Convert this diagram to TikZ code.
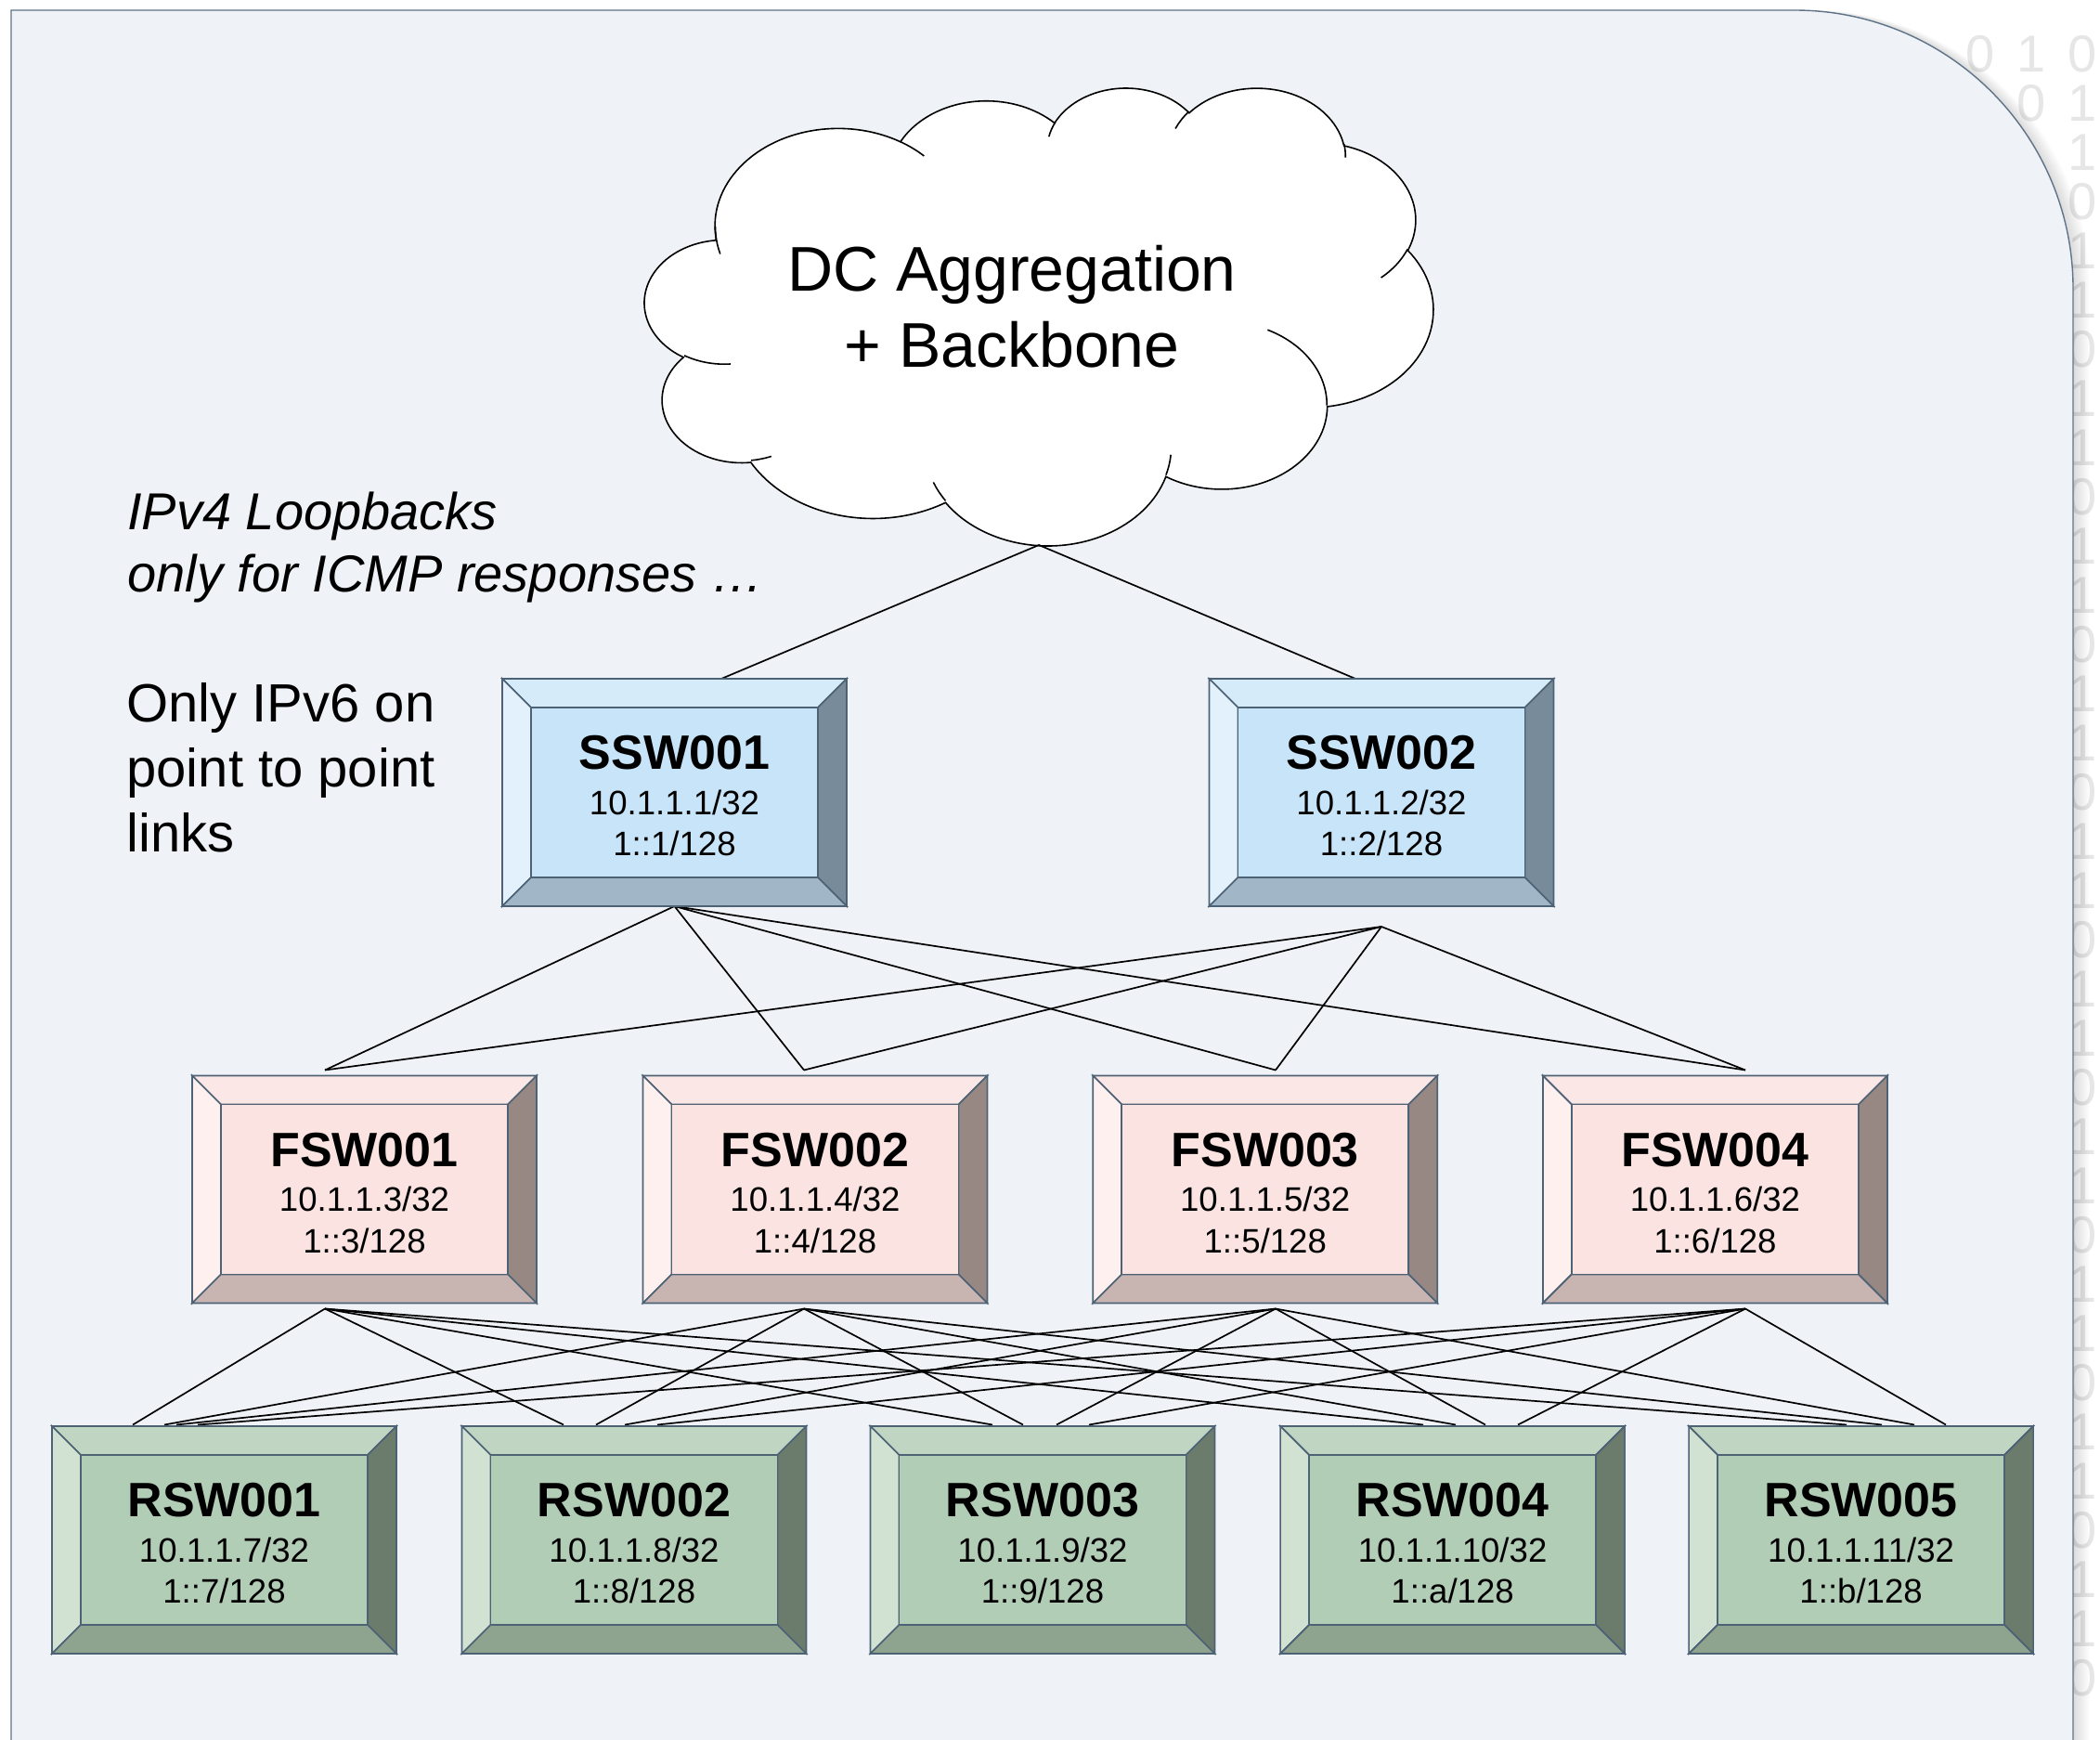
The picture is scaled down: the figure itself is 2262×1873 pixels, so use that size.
\documentclass[tikz,border=0pt]{standalone}
\usepackage{fontspec}
\setmainfont{Liberation Sans}
\usetikzlibrary{calc}
\pgfdeclarelayer{bg}
\pgfdeclarelayer{links}
\pgfsetlayers{bg,links,main}

% page and panel
\definecolor{panelfill}{HTML}{EFF3F7}
\definecolor{paneledge}{HTML}{5F7388}
\definecolor{boxedge}{HTML}{4E6276}
\definecolor{bitgray}{HTML}{E6E6E6}
% spine switches
\definecolor{sswface}{HTML}{C8E4F8}
\definecolor{sswtop}{HTML}{D5EBFA}
\definecolor{sswleft}{HTML}{E2F1FC}
\definecolor{sswright}{HTML}{778B9B}
\definecolor{sswbottom}{HTML}{A1B7C8}
% fabric switches
\definecolor{fswface}{HTML}{FAE3E0}
\definecolor{fswtop}{HTML}{FBE7E5}
\definecolor{fswleft}{HTML}{FDF0EE}
\definecolor{fswright}{HTML}{978884}
\definecolor{fswbottom}{HTML}{C8B4B1}
% rack switches
\definecolor{rswface}{HTML}{B2CDB6}
\definecolor{rswtop}{HTML}{C0D6C3}
\definecolor{rswleft}{HTML}{D1E2D3}
\definecolor{rswright}{HTML}{6B7B6C}
\definecolor{rswbottom}{HTML}{8FA48F}

\tikzset{
  boxnode/.style={rectangle, minimum width=185.5pt, minimum height=122.5pt, inner sep=0pt, outer sep=0pt},
  bevel/.style={draw=boxedge, line width=0.85pt, line join=miter},
  boxtitle/.style={font=\fontsize{26pt}{30pt}\selectfont\bfseries, inner sep=0pt, anchor=base},
  boxaddr/.style={font=\fontsize{18.3pt}{21pt}\selectfont, inner sep=0pt, anchor=base},
  notetext/.style={font=\fontsize{29pt}{35pt}\selectfont, anchor=base west, inner sep=0pt},
  inotetext/.style={font=\fontsize{28pt}{34pt}\selectfont\itshape, anchor=base west, inner sep=0pt},
  cloudtext/.style={font=\fontsize{34pt}{41pt}\selectfont, anchor=base, inner sep=0pt},
  cloudline/.style={draw=black, line width=0.8pt},
  netlink/.style={draw=black, line width=0.85pt},
  bitstyle/.style={text=bitgray, font=\fontsize{28pt}{30pt}\selectfont, inner sep=0pt},
}

% elliptical arc given by visual start angle and sweep (y axis pointing down)
\newcommand\cloudarc[4]{arc[x radius={#1*0.9825pt}, y radius={#2*0.57035pt}, start angle={-pv(#3,#1,#2)}, delta angle={-pd(#3,#4,#1,#2)}]}

% bevelled switch box: name, position, palette, title, IPv4, IPv6
\newcommand\netbox[6]{%
  \node[boxnode] (#1) at (#2) {};
  \path[bevel, fill=#3top] (#1.north west) -- (#1.north east) -- ($(#1.north east)+(-31,31)$) -- ($(#1.north west)+(31,31)$) -- cycle;
  \path[bevel, fill=#3left] (#1.north west) -- ($(#1.north west)+(31,31)$) -- ($(#1.south west)+(31,-31)$) -- (#1.south west) -- cycle;
  \path[bevel, fill=#3right] (#1.north east) -- (#1.south east) -- ($(#1.south east)+(-31,-31)$) -- ($(#1.north east)+(-31,31)$) -- cycle;
  \path[bevel, fill=#3bottom] (#1.south west) -- (#1.south east) -- ($(#1.south east)+(-31,-31)$) -- ($(#1.south west)+(31,-31)$) -- cycle;
  \path[bevel, fill=#3face] ($(#1.north west)+(31,31)$) rectangle ($(#1.south east)+(-31,-31)$);
  \node[boxtitle] (#1-name) at ($(#1.center)+(0,-25)$) {#4};
  \node[boxaddr] (#1-v4) at ($(#1.center)+(0,23.5)$) {#5};
  \node[boxaddr] (#1-v6) at ($(#1.center)+(0,68)$) {#6};
}

\def\panelpath{(12,1900) -- (12,11) -- (1933,11) arc[start angle=90, end angle=0, radius=150pt] -- (2233,1900) -- cycle}

\begin{document}
\begin{tikzpicture}[x=0.5pt, y=-0.5pt,
  declare function={pv(\a,\w,\h)=atan2(\w*sin(\a),\h*cos(\a));
                    pd(\a,\s,\w,\h)=mod(pv(\a+\s,\w,\h)-pv(\a,\w,\h)+720,360);}]
\useasboundingbox (0,0) rectangle (2262,1873);

\begin{pgfonlayer}{bg}
  \fill[white] (0,0) rectangle (2262,1873);
  % binary digits peeking out beside the panel
  \foreach \r in {1,...,34} {
    \pgfmathtruncatemacro\bit{mod(\r*7+\r*\r,3)==0}
    \node[bitstyle] (bit-\r-0) at (2243,{5+53*\r}) {\bit};
  }
  \foreach \r/\k/\bit in {1/1/1, 2/1/0, 1/2/0} {
    \node[bitstyle] (bit-\r-\k) at ({2243-55*\k},{5+53*\r}) {\bit};
  }
  % soft shadow on the right of the panel
  \foreach \i in {1,...,18} {
    \fill[black, opacity=0.006, xshift=\i*0.5pt] \panelpath;
  }
  \filldraw[fill=panelfill, draw=paneledge, line width=0.7pt] \panelpath;

  % aggregation cloud
  \begin{scope}[shift={(694.7,93.4)}, x=0.9825pt, y=-0.57035pt]
    \filldraw[cloudline, fill=white] (39.00,143.70)
      \cloudarc{67.53}{91.90}{-190.48748}{123.78053}
      \cloudarc{53.33}{72.67}{-144.10238}{89.94523}
      \cloudarc{43.65}{59.45}{-145.80792}{99.72302}
      \cloudarc{48.57}{65.95}{-130.98607}{117.24173}
      \cloudarc{53.33}{72.73}{-78.70888}{109.02692}
      \cloudarc{67.75}{92.20}{-46.26725}{130.269}
      \cloudarc{57.85}{78.67}{0.62502}{114.03333}
      \cloudarc{67.52}{92.15}{22.4516}{115.17255}
      \cloudarc{77.20}{105.43}{66.24263}{75.71102}
      \cloudarc{43.60}{59.18}{-274.94208}{146.73557}
      \cloudarc{43.45}{59.45}{-246.8285}{152.51885}
      -- cycle;
    \draw[cloudline]
      (46.93,261.77) \cloudarc{43.45}{59.45}{86.742}{26.4295}
      (69.28,348.99) \cloudarc{43.60}{59.18}{73.61047}{11.44747}
      (164.78,390.90) \cloudarc{67.52}{92.15}{137.62415}{14.0811}
      (288.27,347.51) \cloudarc{67.52}{92.15}{6.45327}{15.99835}
      (341.29,229.54) \cloudarc{57.85}{78.67}{-70.29235}{70.91737}
      (417.98,153.54) \cloudarc{53.33}{72.73}{30.31803}{27.7515}
      (383.24,54.26) \cloudarc{48.57}{65.95}{-13.74433}{14.8589}
      (290.78,39.52) \cloudarc{48.57}{65.95}{-149.18145}{18.19537}
      (221.41,47.20) \cloudarc{43.65}{59.45}{-163.49427}{17.68635}
      (140.00,51.92) \cloudarc{67.53}{91.90}{-66.70695}{12.31935}
      (41.27,157.89) \cloudarc{67.53}{91.90}{158.33333}{21.91667};
  \end{scope}
\end{pgfonlayer}

\node[cloudtext] (agg-a) at (1090,313) {DC Aggregation};
\node[cloudtext] (agg-b) at (1090,395) {+ Backbone};
\coordinate (cloud-s) at (1119,587);

\node[inotetext] (v4-a) at (137,570) {IPv4 Loopbacks};
\node[inotetext] (v4-b) at (137,637) {only for ICMP responses …};
\node[notetext] (v6-a) at (136,777) {Only IPv6 on};
\node[notetext] (v6-b) at (136,847) {point to point};
\node[notetext] (v6-c) at (136,917) {links};

% spine layer
\netbox{ssw1}{726.5,853.5}{ssw}{SSW001}{10.1.1.1/32}{1::1/128}
\netbox{ssw2}{1488,853.5}{ssw}{SSW002}{10.1.1.2/32}{1::2/128}
% fabric layer
\netbox{fsw1}{392.5,1281}{fsw}{FSW001}{10.1.1.3/32}{1::3/128}
\netbox{fsw2}{878,1281}{fsw}{FSW002}{10.1.1.4/32}{1::4/128}
\netbox{fsw3}{1362.7,1281}{fsw}{FSW003}{10.1.1.5/32}{1::5/128}
\netbox{fsw4}{1847.4,1281}{fsw}{FSW004}{10.1.1.6/32}{1::6/128}
% rack layer
\netbox{rsw1}{241.5,1658.5}{rsw}{RSW001}{10.1.1.7/32}{1::7/128}
\netbox{rsw2}{683,1658.5}{rsw}{RSW002}{10.1.1.8/32}{1::8/128}
\netbox{rsw3}{1123,1658.5}{rsw}{RSW003}{10.1.1.9/32}{1::9/128}
\netbox{rsw4}{1564.6,1658.5}{rsw}{RSW004}{10.1.1.10/32}{1::a/128}
\netbox{rsw5}{2004.6,1658.5}{rsw}{RSW005}{10.1.1.11/32}{1::b/128}

% attachment points
\coordinate (ssw1-n) at ($(ssw1.north)+(50.5,0)$);
\coordinate (ssw2-n) at ($(ssw2.north)+(-28,0)$);
\coordinate (ssw1-s) at (ssw1.south);
\coordinate (ssw2-s) at ($(ssw2.south)+(0,22)$);
\foreach \f/\dx in {1/-42.5,2/-12,3/11.3,4/32.6} {
  \coordinate (fsw\f-n) at ($(fsw\f.north)+(\dx,-6)$);
  \coordinate (fsw\f-s) at ($(fsw\f.south)+(\dx,6)$);
}
\foreach \r/\a/\b/\c/\d in {1/-98.5/-64.5/-51.5/-28.5, 2/-76/-41/-10/25,
    3/-54/-21/15/50, 4/-31.6/3.4/35.4/70.4, 5/-15.6/22.4/57.4/91.4} {
  \coordinate (rsw\r-1) at ($(rsw\r.north)+(\a,-1.5)$);
  \coordinate (rsw\r-2) at ($(rsw\r.north)+(\b,-1.5)$);
  \coordinate (rsw\r-3) at ($(rsw\r.north)+(\c,-1.5)$);
  \coordinate (rsw\r-4) at ($(rsw\r.north)+(\d,-1.5)$);
}

\begin{pgfonlayer}{links}
  \draw[netlink] (ssw1-n) -- (cloud-s) -- (ssw2-n);
  \foreach \f in {1,...,4} {
    \draw[netlink] (ssw1-s) -- (fsw\f-n);
    \draw[netlink] (ssw2-s) -- (fsw\f-n);
  }
  \foreach \f in {1,...,4} {
    \foreach \r in {1,...,5} {
      \draw[netlink] (fsw\f-s) -- (rsw\r-\f);
    }
  }
\end{pgfonlayer}
\end{tikzpicture}
\end{document}
